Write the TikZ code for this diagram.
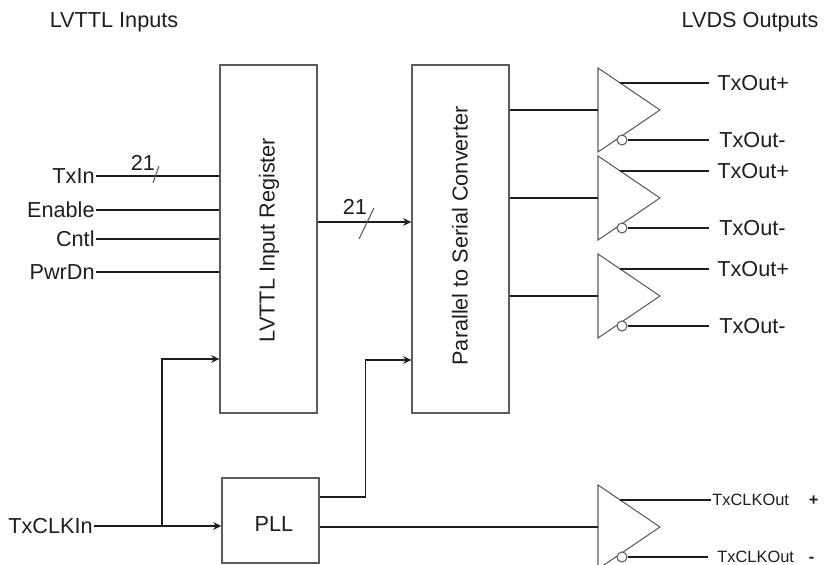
\documentclass[tikz,border=0pt]{standalone}
\usepackage{fontspec}
\setmainfont{Liberation Sans}
\usepackage{tikz}
\usetikzlibrary{calc,arrows.meta}
\definecolor{ink}{HTML}{1E1E1E}
\definecolor{frame}{HTML}{5C5C5C}
\newcommand{\lblfont}{\fontsize{18.5}{22}\selectfont}
\newcommand{\clkfont}{\fontsize{14}{17}\selectfont}
\tikzset{
  blk/.style={draw=frame, line width=1.1pt, inner sep=0pt},
  wire/.style={draw=ink, line width=0.9pt},
  sig/.style={wire, -{Stealth[length=7pt,width=6.5pt]}},
  slash/.style={draw=frame, line width=0.9pt},
  gate/.style={draw=frame, line width=0.9pt},
  bub/.style={circle, draw=frame, line width=0.9pt, fill=white, inner sep=0pt, minimum size=0.3cm},
  lab/.style={font=\lblfont, text=ink, inner sep=1pt},
  vlab/.style={font=\lblfont, text=ink, rotate=90}
}

\begin{document}
\begin{tikzpicture}[x=0.03cm, y=-0.03cm]
  \useasboundingbox (0,0) rectangle (826,565);

  % headings
  \node[lab] (hin) at (114,22) {LVTTL Inputs};
  \node[lab, anchor=east] (hout) at (820,22) {LVDS Outputs};

  % blocks
  \node[blk, minimum width=2.91cm, minimum height=10.44cm] (reg) at (268.5,239) {};
  \node[blk, minimum width=2.91cm, minimum height=10.44cm] (ser) at (460.5,239) {};
  \node[blk, minimum width=2.91cm, minimum height=2.55cm] (pll) at (270.5,520.5) {};
  \node[vlab] (regtxt) at (269,240) {LVTTL Input Register};
  \node[vlab] (sertxt) at (460,236) {Parallel to Serial Converter};
  \node[lab] (plltxt) at (274,524) {PLL};

  % inputs
  \foreach \nm/\yy in {TxIn/176, Enable/210, Cntl/239, PwrDn/272} {
    \node[lab, anchor=east] (in\nm) at (96,\yy) {\nm};
    \draw[wire] (in\nm.east) -- (in\nm.east -| reg.west);
  }
  \coordinate (bs1) at (156,175);
  \draw[slash] ($(bs1)+(-3,8)$) -- ($(bs1)+(3,-9)$);
  \node[lab] (w1) at (143,163) {21};

  % register to serializer
  \coordinate (q) at ($(reg.east)+(0,-17)$);
  \draw[sig] (q) -- (q -| ser.west);
  \coordinate (bs2) at (366.5,223.5);
  \draw[slash] ($(bs2)+(-7.5,15.5)$) -- ($(bs2)+(7.5,-15.5)$);
  \node[lab] (w2) at (355,207) {21};

  % clock
  \node[lab, anchor=east] (clk) at (94,526) {TxCLKIn};
  \draw[sig] (clk.east) -- (clk.east -| pll.west);
  \coordinate (br) at (162,526);
  \draw[sig] (br) |- ($(reg.west)+(0,120)$);
  \coordinate (pll1) at ($(pll.east)+(0,-23.5)$);
  \coordinate (sclk) at ($(ser.west)+(0,121)$);
  \draw[sig] (pll1) -| ($(sclk)+(-46,0)$) -- (sclk);

  % LVDS drivers
  \foreach \i/\yc/\tp/\tm/\xp/\xm/\gp/\gm in {
      1/110/TxOut+/TxOut-/716/718/7/9,
      2/198/TxOut+/TxOut-/716/718/7/9,
      3/296/TxOut+/TxOut-/716/718/7/9,
      4/527/{\clkfont TxCLKOut\hspace{0.6cm}\textbf{+}}/{\clkfont TxCLKOut\hspace{0.45cm}\textbf{-}}/711/716/0/8} {
    \coordinate (drv\i) at (598,\yc);
    \draw[gate] (drv\i) ++(0,-42) -- ++(62,42) -- ++(-62,42) -- cycle;
    \coordinate (op\i) at ($(drv\i)+(22,-27)$);
    \node[bub] (bub\i) at ($(drv\i)+(24,30)$) {};
    \node[lab, anchor=west] (outp\i) at (\xp,\yc-27) {\tp};
    \node[lab, anchor=west] (outm\i) at (\xm,\yc+30) {\tm};
    \draw[wire] (op\i) -- ($(outp\i.west)+(-\gp,0)$);
    \draw[wire] (bub\i.east) -- ($(outm\i.west)+(-\gm,0)$);
  }
  \foreach \i in {1,2,3} {
    \draw[wire] (ser.east |- drv\i) -- (drv\i);
  }
  \draw[wire] (pll.east |- drv4) -- (drv4);
\end{tikzpicture}
\end{document}
